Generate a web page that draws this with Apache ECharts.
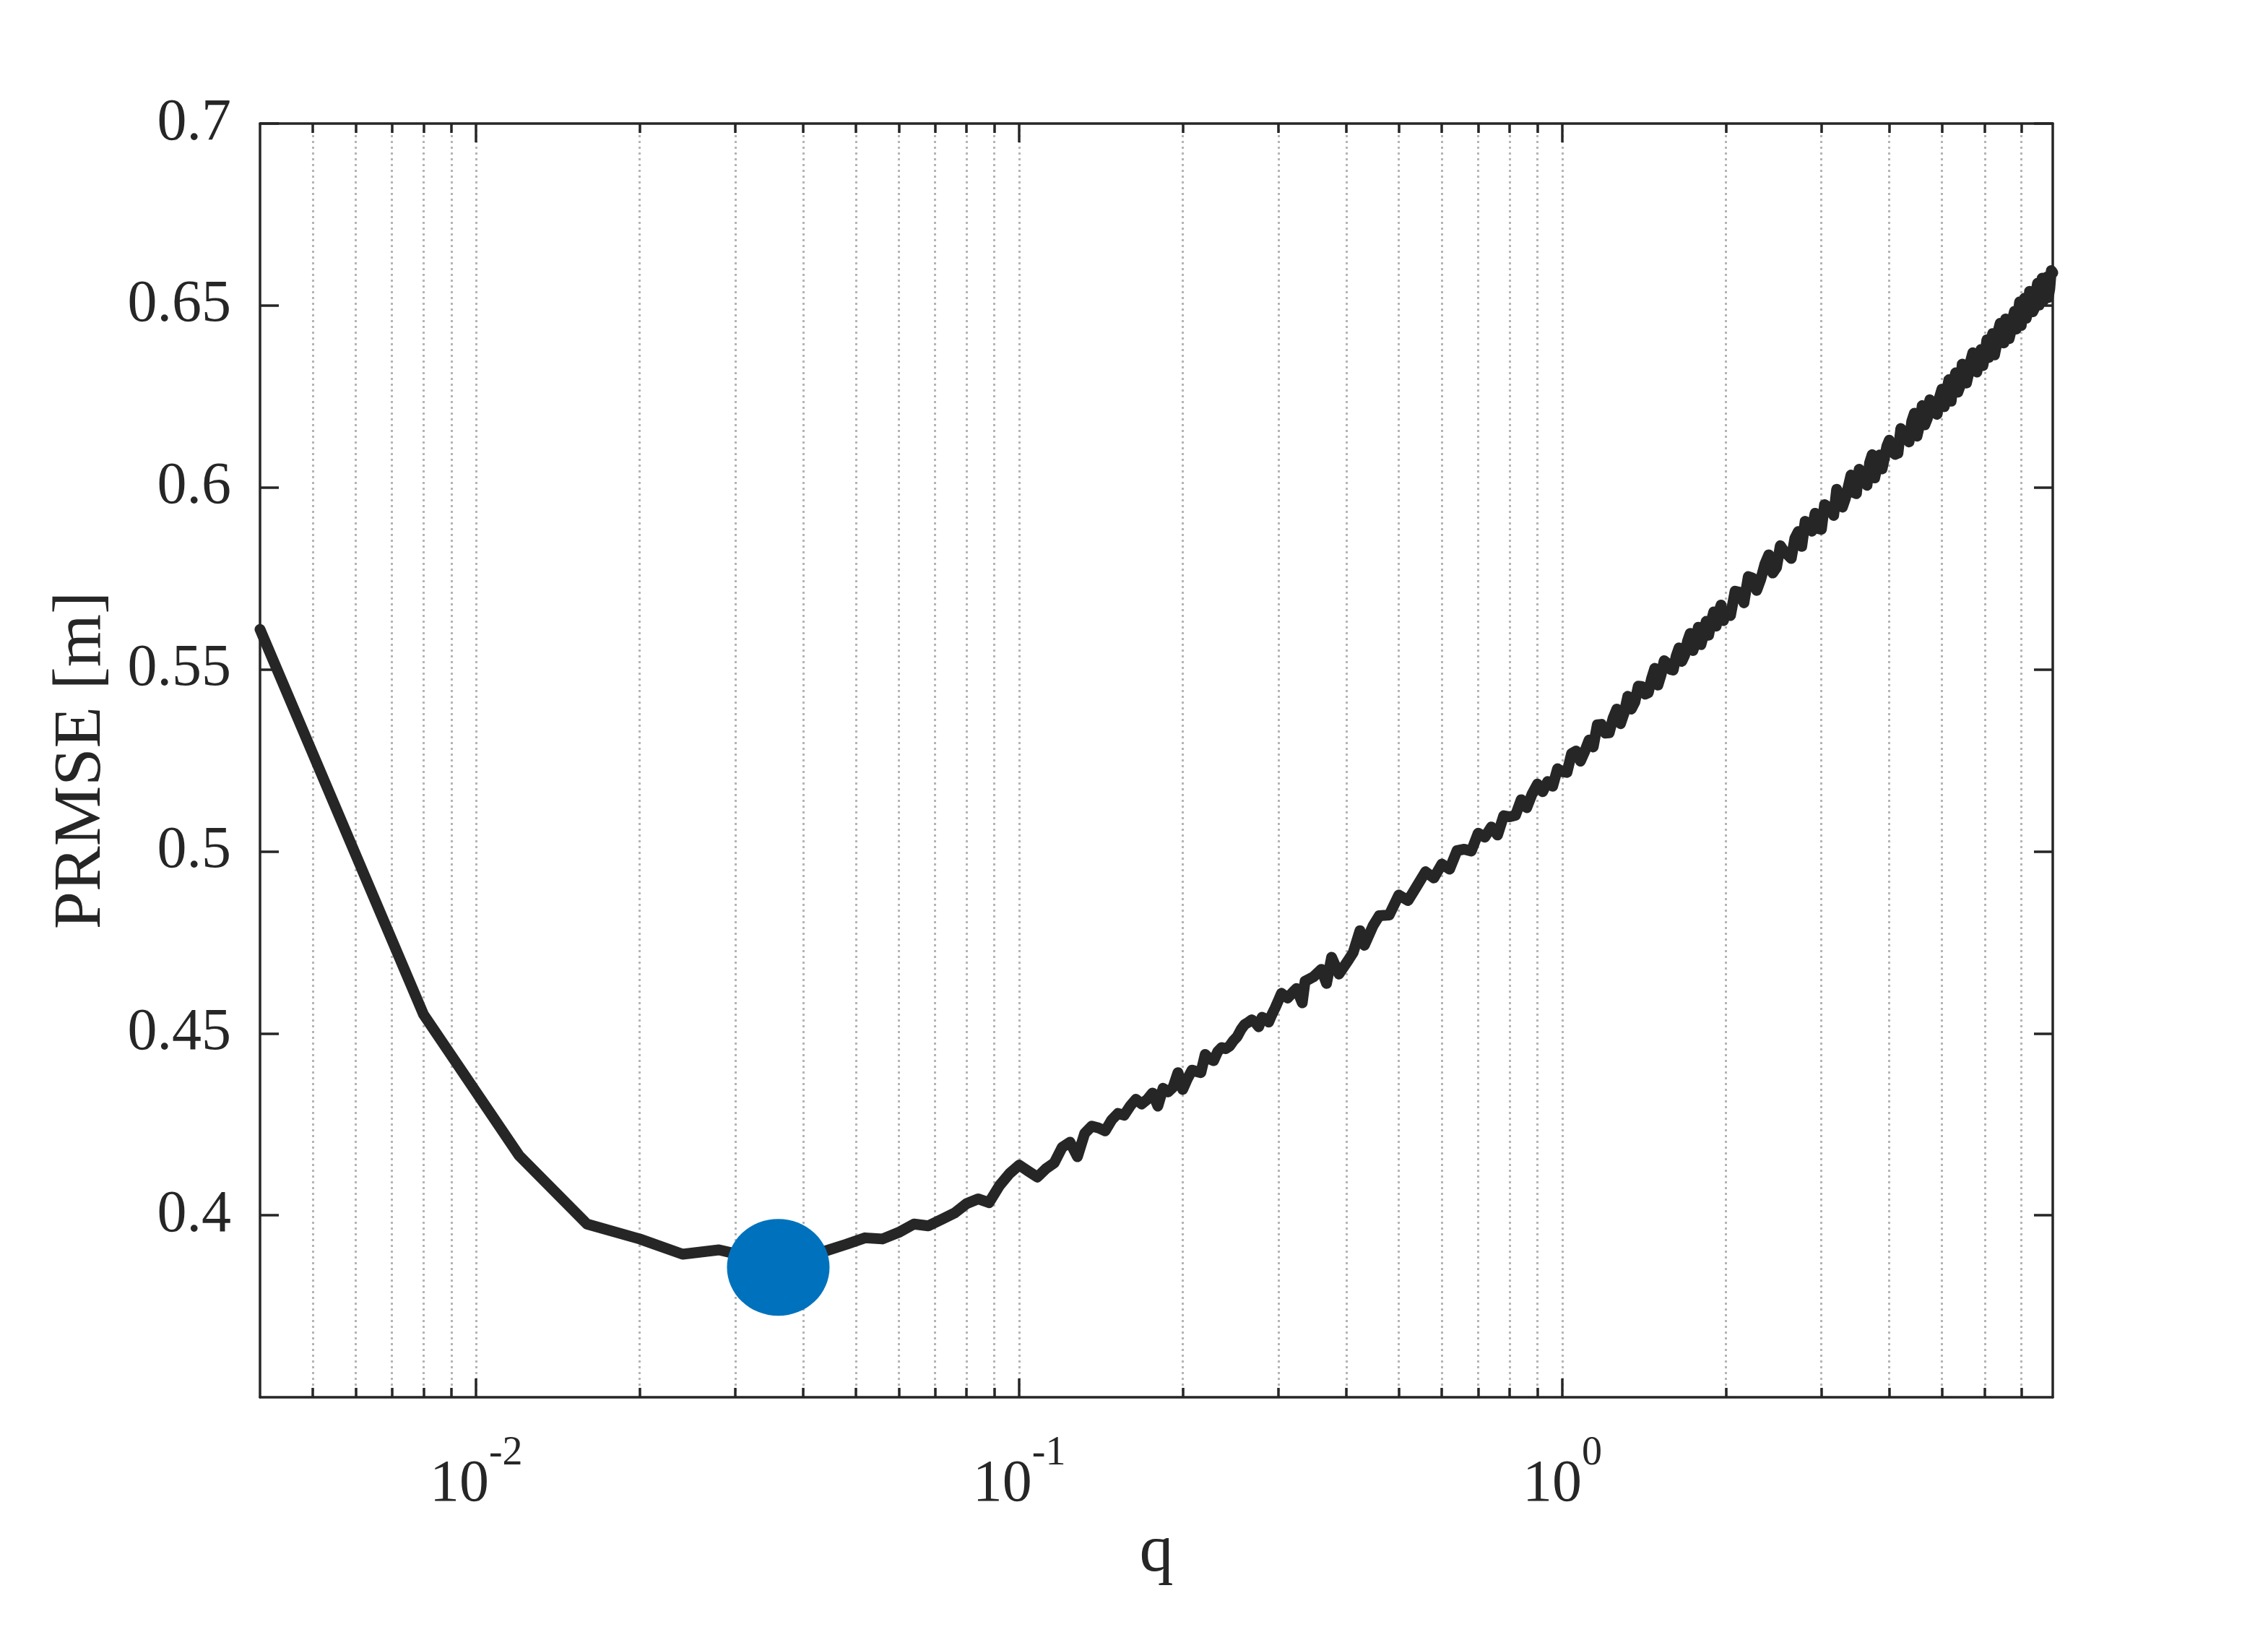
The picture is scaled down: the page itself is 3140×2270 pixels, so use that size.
<!DOCTYPE html>
<html lang="en">
<head>
    <meta charset="UTF-8">
    <title>PRMSE vs q</title>
    <style>
        body {
            margin: 0;
            background-color: #ffffff;
        }

        #chart {
            width: 3140px;
            height: 2270px;
        }
    </style>
</head>
<body>

    <div id="chart"></div>

    <script src="https://cdn.jsdelivr.net/npm/echarts@6.0.0/dist/echarts.min.js"></script>
    <script>

        // q values (x axis, log scale)
        const qValues = [
            0.004, 0.008, 0.012, 0.016, 0.020, 0.024, 0.028, 0.032, 0.036, 0.040,
            0.044, 0.048, 0.052, 0.056, 0.060, 0.064, 0.068, 0.072, 0.076, 0.080,
            0.084, 0.088, 0.092, 0.096, 0.100, 0.104, 0.108, 0.112, 0.116, 0.120,
            0.124, 0.128, 0.132, 0.136, 0.140, 0.144, 0.148, 0.152, 0.156, 0.160,
            0.164, 0.168, 0.172, 0.176, 0.180, 0.184, 0.188, 0.192, 0.196, 0.200,
            0.204, 0.208, 0.212, 0.216, 0.220, 0.224, 0.228, 0.232, 0.236, 0.240,
            0.244, 0.248, 0.252, 0.256, 0.260, 0.264, 0.268, 0.272, 0.276, 0.280,
            0.284, 0.288, 0.292, 0.296, 0.300, 0.304, 0.312, 0.320, 0.324, 0.332,
            0.336, 0.348, 0.360, 0.368, 0.376, 0.388, 0.404, 0.412, 0.424, 0.432,
            0.448, 0.46, 0.48, 0.50, 0.52, 0.54, 0.56, 0.58, 0.60, 0.62,
            0.64, 0.66, 0.68, 0.70, 0.72, 0.74, 0.76, 0.78, 0.80, 0.82,
            0.84, 0.86, 0.88, 0.90, 0.92, 0.94, 0.96, 0.98,
            1.00, 1.02, 1.04, 1.06, 1.08, 1.10, 1.12, 1.14, 1.16, 1.18,
            1.20, 1.22, 1.24, 1.26, 1.28, 1.30, 1.32, 1.34, 1.36, 1.38,
            1.40, 1.42, 1.44, 1.46, 1.48, 1.50, 1.52, 1.54, 1.56, 1.58,
            1.60, 1.62, 1.64, 1.66, 1.68, 1.70, 1.72, 1.74, 1.76, 1.78,
            1.80, 1.82, 1.84, 1.86, 1.88, 1.90, 1.92, 1.94, 1.96, 1.98,
            2.00, 2.04, 2.08, 2.12, 2.16, 2.20, 2.24, 2.28, 2.32, 2.36,
            2.40, 2.44, 2.48, 2.52, 2.56, 2.60, 2.64, 2.68, 2.72, 2.76,
            2.80, 2.84, 2.88, 2.92, 2.96, 3.00, 3.04, 3.08, 3.12, 3.16,
            3.20, 3.24, 3.28, 3.32, 3.36, 3.40, 3.44, 3.48, 3.52, 3.56,
            3.60, 3.64, 3.68, 3.72, 3.76, 3.80, 3.84, 3.88, 3.92, 3.96,
            4.00, 4.05, 4.10, 4.15, 4.20, 4.25, 4.30, 4.35, 4.40, 4.45,
            4.50, 4.55, 4.60, 4.65, 4.70, 4.75, 4.80, 4.85, 4.90, 4.95,
            5.00, 5.05, 5.10, 5.15, 5.20, 5.25, 5.30, 5.35, 5.40, 5.45,
            5.50, 5.55, 5.60, 5.65, 5.70, 5.75, 5.80, 5.85, 5.90, 5.95,
            6.00, 6.05, 6.10, 6.15, 6.20, 6.25, 6.30, 6.35, 6.40, 6.45,
            6.50, 6.55, 6.60, 6.65, 6.70, 6.75, 6.80, 6.85, 6.90, 6.95,
            7.00, 7.05, 7.10, 7.15, 7.20, 7.25, 7.30, 7.35, 7.40, 7.45,
            7.50, 7.55, 7.60, 7.65, 7.70, 7.75, 7.80, 7.85, 7.90, 7.95,
            8.00
        ];

        // PRMSE [m] at each q
        const prmse = [
            0.5610, 0.4552, 0.4164, 0.3976, 0.3935, 0.3893, 0.3905, 0.3885, 0.3857, 0.3882,
            0.3902, 0.3920, 0.3938, 0.3935, 0.3953, 0.3976, 0.3971, 0.3989, 0.4006, 0.4032,
            0.4045, 0.4035, 0.4082, 0.4115, 0.4138, 0.4121, 0.4105, 0.4128, 0.4144, 0.4187,
            0.4201, 0.4161, 0.4225, 0.4245, 0.4240, 0.4232, 0.4262, 0.4280, 0.4275, 0.4300,
            0.4319, 0.4306, 0.4318, 0.4336, 0.4300, 0.4349, 0.4339, 0.4352, 0.4392, 0.4346,
            0.4375, 0.4399, 0.4395, 0.4392, 0.4442, 0.4430, 0.4425, 0.4450, 0.4461, 0.4458,
            0.4465, 0.4480, 0.4491, 0.4510, 0.4524, 0.4530, 0.4537, 0.4530, 0.4518, 0.4544,
            0.4540, 0.4531, 0.4552, 0.4570, 0.4590, 0.4610, 0.4597, 0.4615, 0.4623, 0.4584,
            0.4643, 0.4655, 0.4676, 0.4637, 0.4709, 0.4663, 0.4702, 0.4722, 0.4782, 0.4742,
            0.4795, 0.4823, 0.4825, 0.4880, 0.4865, 0.4905, 0.4944, 0.4927, 0.4965, 0.4951,
            0.5002, 0.5006, 0.5001, 0.5050, 0.5039, 0.5067, 0.5045, 0.5098, 0.5095, 0.5099,
            0.5142, 0.5120, 0.5158, 0.5185, 0.5164, 0.5192, 0.5179, 0.5227,
            0.5219, 0.5217, 0.5269, 0.5276, 0.5248, 0.5275, 0.5306, 0.5287, 0.5348, 0.5349,
            0.5325, 0.5326, 0.5366, 0.5391, 0.5351, 0.5381, 0.5426, 0.5391, 0.5410, 0.5454,
            0.5453, 0.5432, 0.5436, 0.5475, 0.5503, 0.5457, 0.5485, 0.5524, 0.5517, 0.5500,
            0.5498, 0.5536, 0.5559, 0.5522, 0.5539, 0.5577, 0.5599, 0.5552, 0.5574, 0.5616,
            0.5568, 0.5595, 0.5632, 0.5594, 0.5631, 0.5658, 0.5619, 0.5656, 0.5677, 0.5634,
            0.5655, 0.5648, 0.5715, 0.5712, 0.5683, 0.5755, 0.5751, 0.5717, 0.5748, 0.5789,
            0.5815, 0.5765, 0.5780, 0.5840, 0.5825, 0.5815, 0.5805, 0.5860, 0.5879, 0.5838,
            0.5907, 0.5896, 0.5880, 0.5929, 0.5887, 0.5885, 0.5953, 0.5947, 0.5940, 0.5923,
            0.5995, 0.5978, 0.5946, 0.5969, 0.6001, 0.6034, 0.5986, 0.5983, 0.6050, 0.6037,
            0.6024, 0.6006, 0.6068, 0.6090, 0.6026, 0.6058, 0.6089, 0.6051, 0.6082, 0.6114,
            0.6130, 0.6098, 0.6091, 0.6094, 0.6162, 0.6150, 0.6137, 0.6125, 0.6182, 0.6204,
            0.6141, 0.6173, 0.6225, 0.6172, 0.6189, 0.6241, 0.6228, 0.6205, 0.6201, 0.6248,
            0.6270, 0.6222, 0.6264, 0.6296, 0.6237, 0.6289, 0.6315, 0.6262, 0.6278, 0.6339,
            0.6325, 0.6287, 0.6313, 0.6349, 0.6370, 0.6326, 0.6317, 0.6358, 0.6379, 0.6335,
            0.6365, 0.6406, 0.6357, 0.6398, 0.6423, 0.6364, 0.6390, 0.6431, 0.6451, 0.6412,
            0.6397, 0.6463, 0.6448, 0.6409, 0.6429, 0.6464, 0.6484, 0.6435, 0.6470, 0.6510,
            0.6445, 0.6495, 0.6520, 0.6465, 0.6484, 0.6539, 0.6528, 0.6483, 0.6492, 0.6537,
            0.6561, 0.6501, 0.6525, 0.6575, 0.6514, 0.6554, 0.6578, 0.6522, 0.6546, 0.6596,
            0.6590
        ];

        // optimal point (blue marker)
        const optimalQ = [0.036];
        const optimalPrmse = [0.3857];

        // ticks
        const xMajorTicks = [0.01, 0.1, 1];
        const xGridTicks = [
            0.005, 0.006, 0.007, 0.008, 0.009,
            0.01, 0.02, 0.03, 0.04, 0.05, 0.06, 0.07, 0.08, 0.09,
            0.1, 0.2, 0.3, 0.4, 0.5, 0.6, 0.7, 0.8, 0.9,
            1, 2, 3, 4, 5, 6, 7
        ];
        const yTicks = [0.4, 0.45, 0.5, 0.55, 0.6, 0.65, 0.7];

        const axisColor = '#262626';
        const fontName = 'Liberation Serif';

        const chart = echarts.init(document.getElementById('chart'));

        function xAxisBase(position) {
            return {
                type: 'log',
                logBase: 10,
                min: 0.004,
                max: 8,
                position: position,
                axisLine: { show: false },
                axisTick: { show: false },
                axisLabel: { show: false },
                splitLine: { show: false },
            };
        }

        function borderLine() {
            return { show: true, lineStyle: { color: axisColor, width: 3.5 } };
        }

        function ticks(values, length) {
            return {
                show: true,
                inside: true,
                length: length,
                customValues: values,
                lineStyle: { color: axisColor, width: 3.5 },
            };
        }

        const option = {
            animation: false,
            backgroundColor: '#ffffff',
            grid: {
                left: 360,
                right: 298,
                top: 171,
                bottom: 336,
                containLabel: false,
            },
            xAxis: [
                // bottom: border, minor ticks, dotted grid
                Object.assign(xAxisBase('bottom'), {
                    axisLine: borderLine(),
                    axisTick: ticks(xGridTicks, 13),
                    splitLine: {
                        show: true,
                        lineStyle: { color: '#b4b4b4', width: 3, type: [3, 5] },
                    },
                }),
                // bottom: major ticks and labels
                Object.assign(xAxisBase('bottom'), {
                    axisTick: ticks(xMajorTicks, 26),
                    axisLabel: {
                        show: true,
                        customValues: xMajorTicks,
                        margin: 50,
                        formatter: function (value) {
                            const exp = Math.round(Math.log10(value));
                            return '{b|10}{s|' + exp + '}';
                        },
                        rich: {
                            b: { fontSize: 82, fontFamily: fontName, color: axisColor },
                            s: { fontSize: 56, fontFamily: fontName, color: axisColor, padding: [0, 0, 86, 0] },
                        },
                    },
                    name: 'q',
                    nameLocation: 'middle',
                    nameGap: 168,
                    nameTextStyle: { fontSize: 94, fontFamily: fontName, color: axisColor },
                }),
                // top: border, minor ticks
                Object.assign(xAxisBase('top'), {
                    axisLine: borderLine(),
                    axisTick: ticks(xGridTicks, 13),
                }),
                // top: major ticks
                Object.assign(xAxisBase('top'), {
                    axisTick: ticks(xMajorTicks, 26),
                }),
            ],
            yAxis: [
                {
                    type: 'value',
                    position: 'left',
                    min: 0.35,
                    max: 0.7,
                    axisLine: borderLine(),
                    axisTick: ticks(yTicks, 26),
                    axisLabel: {
                        show: true,
                        customValues: yTicks,
                        margin: 40,
                        fontSize: 82,
                        fontFamily: fontName,
                        color: axisColor,
                    },
                    splitLine: { show: false },
                    name: 'PRMSE [m]',
                    nameLocation: 'middle',
                    nameGap: 200,
                    nameTextStyle: { fontSize: 94, fontFamily: fontName, color: axisColor },
                },
                {
                    type: 'value',
                    position: 'right',
                    min: 0.35,
                    max: 0.7,
                    axisLine: borderLine(),
                    axisTick: ticks(yTicks, 26),
                    axisLabel: { show: false },
                    splitLine: { show: false },
                },
            ],
            series: [
                {
                    type: 'line',
                    xAxisIndex: 0,
                    yAxisIndex: 0,
                    data: qValues.map((q, i) => [q, prmse[i]]),
                    showSymbol: false,
                    clip: false,
                    lineStyle: { color: axisColor, width: 15, join: 'round', cap: 'round' },
                    z: 3,
                },
                {
                    type: 'scatter',
                    xAxisIndex: 0,
                    yAxisIndex: 0,
                    data: optimalQ.map((q, i) => [q, optimalPrmse[i]]),
                    symbol: 'circle',
                    symbolSize: [142, 134],
                    itemStyle: { color: '#0072BD', opacity: 1 },
                    z: 4,
                },
            ],
        };

        chart.setOption(option);

    </script>
</body>
</html>
